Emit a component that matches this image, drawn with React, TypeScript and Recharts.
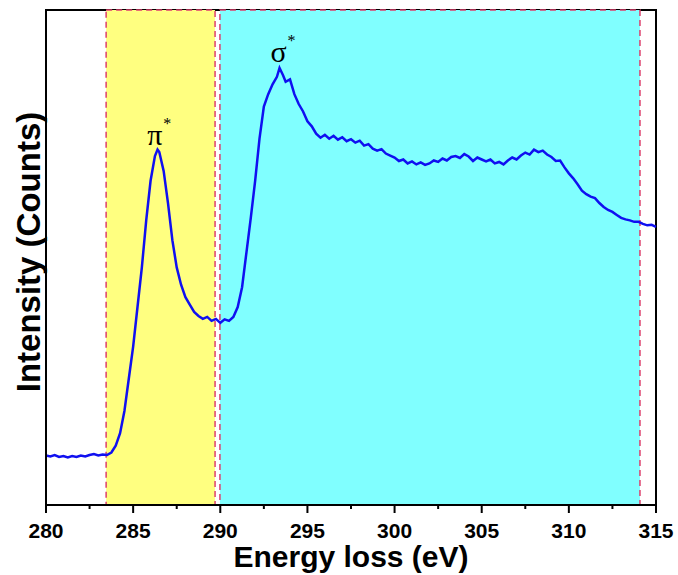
import { LineChart, Line, XAxis, YAxis, ReferenceArea, ReferenceDot, Label } from 'recharts';

// Energy loss (eV) and intensity (arbitrary counts, 0-100 scale)
const energy = [
  280.0, 280.25, 280.5, 280.75, 281.0, 281.25, 281.5, 281.75, 282.0, 282.25, 282.5, 282.75,
  283.0, 283.25, 283.5, 283.75, 284.0, 284.25, 284.5, 284.75, 285.0, 285.25, 285.5, 285.75,
  286.0, 286.25, 286.4, 286.5, 286.75, 287.0, 287.25, 287.5, 287.75, 288.0, 288.25, 288.5,
  288.75, 289.0, 289.25, 289.5, 289.75, 290.0, 290.25, 290.5, 290.75, 291.0, 291.25, 291.5,
  291.75, 292.0, 292.25, 292.5, 292.75, 293.0, 293.25, 293.4, 293.6, 293.75, 294.0, 294.25,
  294.5, 294.75, 295.0, 295.25, 295.5, 295.75, 296.0, 296.25, 296.5, 296.75, 297.0, 297.25,
  297.5, 297.75, 298.0, 298.25, 298.5, 298.75, 299.0, 299.25, 299.5, 299.75, 300.0, 300.25,
  300.5, 300.75, 301.0, 301.25, 301.5, 301.75, 302.0, 302.25, 302.5, 302.75, 303.0, 303.25,
  303.5, 303.75, 304.0, 304.25, 304.5, 304.75, 305.0, 305.25, 305.5, 305.75, 306.0, 306.25,
  306.5, 306.75, 307.0, 307.25, 307.5, 307.75, 308.0, 308.25, 308.5, 308.75, 309.0, 309.25,
  309.5, 309.75, 310.0, 310.25, 310.5, 310.75, 311.0, 311.25, 311.5, 311.75, 312.0, 312.25,
  312.5, 312.75, 313.0, 313.25, 313.5, 313.75, 314.0, 314.25, 314.5, 314.75, 315.0,
];

const intensity = [
  10.0, 9.8, 10.1, 9.7, 9.9, 9.6, 9.9, 9.7, 10.0, 9.8, 10.1, 10.3,
  10.0, 10.2, 10.1, 10.6, 12.0, 14.5, 19.0, 25.5, 32.0, 40.0, 48.0, 57.5,
  65.5, 70.5, 71.8, 71.3, 67.5, 61.0, 53.5, 48.0, 44.5, 42.0, 40.5, 39.0,
  38.2, 37.6, 38.0, 37.2, 37.6, 36.8, 37.5, 37.2, 38.0, 40.0, 44.0, 51.0,
  58.0, 65.5, 74.0, 80.5, 83.0, 85.0, 86.5, 88.3, 86.8, 85.5, 86.0, 83.0,
  81.0, 79.5, 77.5, 76.5, 75.0, 74.2, 74.8, 74.0, 74.6, 73.8, 74.3, 73.5,
  73.9, 73.2, 73.6, 72.6, 72.9, 72.0, 71.6, 71.9, 71.0, 70.6, 70.2, 69.5,
  69.8, 69.0, 69.4, 68.8, 69.2, 68.7, 69.0, 69.6, 69.3, 70.0, 69.6, 70.3,
  70.5, 70.1, 70.9, 70.4, 69.5, 70.2, 69.8, 69.4, 69.8, 69.0, 69.3, 68.8,
  69.6, 70.2, 69.8, 70.6, 71.2, 70.8, 71.8, 71.3, 71.6, 70.8, 70.3, 69.5,
  69.6, 68.2, 67.0, 66.0, 64.8, 63.5, 62.8, 62.3, 62.0, 61.0, 60.2, 59.6,
  59.2, 58.6, 58.0, 57.7, 57.5, 57.2, 57.2, 56.8, 56.5, 56.6, 56.2,
];

const majorTicks = [280, 285, 290, 295, 300, 305, 310, 315];
const minorTicks = [282.5, 287.5, 292.5, 297.5, 302.5, 307.5, 312.5];

// shaded regions: pi* window and sigma* window
const piRegion = [283.45, 289.7];
const sigmaRegion = [289.98, 314.08];

const data = energy.map((e, i) => ({ energy: e, intensity: intensity[i] }));
const allTicks = [...majorTicks, ...minorTicks].sort((a, b) => a - b);

const AxisTick = (props: any) => {
  const { x, y, payload } = props;
  const major = majorTicks.includes(payload.value);
  return (
    <g>
      <line x1={x} x2={x} y1={y} y2={y + (major ? 8 : 4)} stroke="#000" strokeWidth={2} />
      {major && (
        <text
          x={x}
          y={y + 33}
          textAnchor="middle"
          fontFamily="'Liberation Sans', Arial, sans-serif"
          fontWeight="bold"
          fontSize={21}
          fill="#000"
        >
          {payload.value}
        </text>
      )}
    </g>
  );
};

const PeakLabel = (symbol: string) => (props: any) => {
  const { cx, cy } = props;
  return (
    <text
      x={cx}
      y={cy}
      textAnchor="middle"
      fontFamily="'Liberation Serif', 'Times New Roman', serif"
      fontSize={30}
      fill="#000"
    >
      {symbol}
      <tspan dx={1} dy={-16} fontSize={16}>*</tspan>
    </text>
  );
};

export default function App() {
  return (
    <div style={{ position: 'absolute', left: 0, top: 0, background: '#fff' }}>
      <LineChart
        width={678}
        height={575}
        data={data}
        margin={{ top: 10, right: 22, left: 0, bottom: 0 }}
      >
        <XAxis
          dataKey="energy"
          type="number"
          domain={[280, 315]}
          ticks={allTicks}
          interval={0}
          tickSize={0}
          tickMargin={0}
          tickLine={false}
          tick={<AxisTick />}
          axisLine={{ stroke: '#000', strokeWidth: 2 }}
          height={70}
        >
          <Label
            content={(p: any) => {
              const vb = p.viewBox;
              return (
                <text
                  x={vb.x + vb.width / 2}
                  y={vb.y + 62}
                  textAnchor="middle"
                  fontFamily="'Liberation Sans', Arial, sans-serif"
                  fontWeight="bold"
                  fontSize={30}
                  fill="#000"
                >
                  Energy loss (eV)
                </text>
              );
            }}
          />
        </XAxis>
        <YAxis
          type="number"
          domain={[0, 100]}
          width={46}
          tick={false}
          tickLine={false}
          axisLine={{ stroke: '#000', strokeWidth: 2 }}
        >
          <Label
            content={(p: any) => {
              const vb = p.viewBox;
              const cx = 28;
              const cy = vb.y + 242;
              return (
                <text
                  x={cx}
                  y={cy}
                  transform={`rotate(-90, ${cx}, ${cy})`}
                  textAnchor="middle"
                  dominantBaseline="central"
                  fontFamily="'Liberation Sans', Arial, sans-serif"
                  fontWeight="bold"
                  fontSize={33}
                  fill="#000"
                >
                  Intensity (Counts)
                </text>
              );
            }}
          />
        </YAxis>

        <ReferenceArea x1={280} x2={315} y1={0} y2={100} fill="none" stroke="#000" strokeWidth={2} />
        <ReferenceArea
          x1={piRegion[0]}
          x2={piRegion[1]}
          y1={0}
          y2={100}
          fill="#ffff80"
          fillOpacity={1}
          stroke="#dd3f6c"
          strokeWidth={1.5}
          strokeDasharray="6 4"
        />
        <ReferenceArea
          x1={sigmaRegion[0]}
          x2={sigmaRegion[1]}
          y1={0}
          y2={100}
          fill="#80ffff"
          fillOpacity={1}
          stroke="#dd3f6c"
          strokeWidth={1.5}
          strokeDasharray="6 4"
        />

        <Line
          type="linear"
          dataKey="intensity"
          stroke="#1010f0"
          strokeWidth={2.5}
          dot={false}
          isAnimationActive={false}
        />

        <ReferenceDot x={286.5} y={72.7} r={0} shape={PeakLabel('π')} />
        <ReferenceDot x={293.6} y={89.5} r={0} shape={PeakLabel('σ')} />
      </LineChart>
    </div>
  );
}
